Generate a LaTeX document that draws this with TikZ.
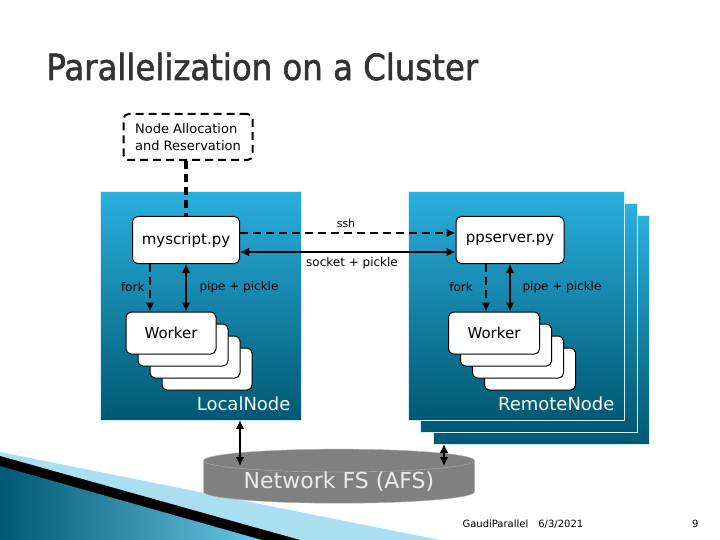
\documentclass[tikz,border=0pt]{standalone}
\usepackage{fontspec}
\setmainfont{DejaVu Sans}
\newfontfamily\titlefont[FakeBold=1.5]{DejaVu Sans Condensed}
\usepackage{tikz}
\usetikzlibrary{shapes.geometric, arrows.meta}
\definecolor{boxtop}{HTML}{2AAFDD}
\definecolor{boxbot}{HTML}{005872}
\tikzset{
  machine/.style={draw=white!80!boxtop, line width=1pt, top color=boxtop, bottom color=boxbot},
  proc/.style={draw, line width=1pt, rounded corners=5pt, fill=white},
  longdash/.style={dash pattern=on 8pt off 5pt},
  thick arrow/.style={line width=2.6pt, -{Latex[length=9pt, width=9pt]}},
  both arrow/.style={line width=2.6pt, {Latex[length=9pt, width=9pt]}-{Latex[length=9pt, width=9pt]}},
  lbl/.style={font=\fontsize{12}{14}\selectfont}
}
\begin{document}
\begin{tikzpicture}[x=1pt, y=-1pt]
\useasboundingbox (0,0) rectangle (720,540);
% title
\node[anchor=base west, text=black!80, font=\titlefont\fontsize{36}{40}\selectfont] (title) at (43,80) {Parallelization on a Cluster};
% corner decoration
\fill[boxtop!40] (0,452) -- (440,540) -- (0,540) -- cycle;
\fill[black] (0,456) -- (300,540) -- (0,540) -- cycle;
\fill[left color=boxbot, right color=boxtop!70] (0,466) -- (262,540) -- (0,540) -- cycle;
% machines
\draw[machine] (433,216) rectangle (649,444);
\draw[machine] (420,204) rectangle (637,432);
\draw[machine] (408,192) rectangle (624,420);
\draw[machine] (100,192) rectangle (301,420);
\node[anchor=base east, text=white, font=\fontsize{18}{20}\selectfont] (local) at (294,410) {LocalNode};
\node[anchor=base east, text=white, font=\fontsize{18}{20}\selectfont] (remote) at (618,410) {RemoteNode};
% allocation
\node[draw, longdash, line width=2pt, rounded corners=5pt, fill=white, align=left, font=\fontsize{13}{17}\selectfont, minimum width=129pt, minimum height=46pt] (alloc) at (188,137) {Node Allocation\\and Reservation};
% processes
\node[proc, minimum width=107pt, minimum height=47pt, font=\fontsize{15}{17}\selectfont] (myscript) at (186,240) {myscript.py};
\node[proc, minimum width=108pt, minimum height=47pt, font=\fontsize{15}{17}\selectfont] (ppserver) at (510,240) {ppserver.py};
\foreach \i in {3,2,1} {
  \node[proc, minimum width=90pt, minimum height=42pt] (lw\i) at (171+12*\i,333+12*\i) {};
  \node[proc, minimum width=91pt, minimum height=42pt] (rw\i) at (494+12*\i,333+12*\i) {};
}
\node[proc, minimum width=90pt, minimum height=42pt, font=\fontsize{15}{17}\selectfont] (lworker) at (171,333) {Worker};
\node[proc, minimum width=91pt, minimum height=42pt, font=\fontsize{15}{17}\selectfont] (rworker) at (494,333) {Worker};
\coordinate (a) at (186,160);
\draw[longdash, line width=4pt] (alloc.south -| a) -- (myscript.north -| a);
% connectors between processes
\draw[thick arrow, longdash] (myscript.east |- 0,233) -- (ppserver.west |- 0,233);
\draw[both arrow] (myscript.east |- 0,252) -- (ppserver.west |- 0,252);
\node[lbl, font=\fontsize{11}{13}\selectfont] (ssh) at (346,223) {ssh};
\node[lbl] (sock) at (352,263) {socket + pickle};
\draw[thick arrow, longdash] (myscript.south -| 150,0) -- (lworker.north -| 150,0);
\draw[both arrow] (myscript.south -| 186,0) -- (lworker.north -| 186,0);
\draw[thick arrow, longdash] (ppserver.south -| 486,0) -- (rworker.north -| 486,0);
\draw[both arrow] (ppserver.south -| 510,0) -- (rworker.north -| 510,0);
\node[lbl, anchor=east] (lfork) at (148,287) {fork};
\node[lbl] (lpipe) at (239,287) {pipe + pickle};
\node[lbl] (rfork) at (461,287) {fork};
\node[lbl] (rpipe) at (562,287) {pipe + pickle};
% shared file system
\node[cylinder, shape border rotate=90, aspect=0.12, draw=black!30, fill=black!50, text=white!92!black, minimum width=271pt, minimum height=42pt, inner sep=0pt, font=\fontsize{22}{24}\selectfont] (afs) at (339,482) {Network FS (AFS)};
\draw[both arrow] (240,420) -- (240,466);
\draw[both arrow] (444,444) -- (444,466);
% footer
\node[anchor=base west, font=\fontsize{10}{12}\selectfont] (foot) at (459,527) {GaudiParallel\quad 6/3/2021};
\node[anchor=base east, font=\fontsize{10}{12}\selectfont] (page) at (702,527) {9};
\end{tikzpicture}
\end{document}
